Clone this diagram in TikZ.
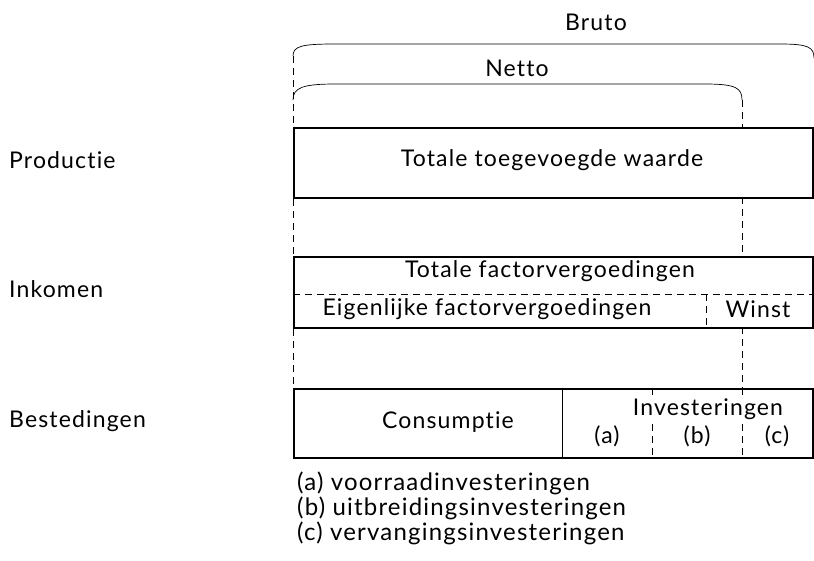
\documentclass[tikz,border=0pt]{standalone}
\usepackage{fontspec}
\setmainfont{Lato}[Ligatures=NoCommon,LetterSpace=5]
\begin{document}
\begin{tikzpicture}[x=1pt,y=-1pt,font=\fontsize{23}{27}\selectfont,
	box/.style={draw,line width=2.2pt,minimum width=519pt,anchor=north west,inner sep=0pt},
	streep/.style={dash pattern=on 7pt off 5pt,line width=0.6pt},
	lijn/.style={line width=0.7pt},
	txt/.style={inner sep=1pt}]
	\useasboundingbox (0,0) rectangle (814,560);
	% de drie blokken
	\node[box,minimum height=70pt] (prod) at (293,127) {};
	\node[box,minimum height=71pt] (ink) at (293,256) {};
	\node[box,minimum height=69pt] (best) at (293,388) {};
	% labels links
	\foreach \naam/\tekst/\y in {lprod/Productie/160,link/Inkomen/289,lbest/Bestedingen/421}
	\node[txt,anchor=west] (\naam) at (8,\y) {\tekst};
	% accolades
	\coordinate (bl) at (293,56); \coordinate (br) at (814,58);
	\coordinate (nl) at (293,100); \coordinate (nr) at (742,100);
	\draw[lijn] (bl) .. controls (293,46) and (302,44) .. (335,44) -- (780,44) .. controls (808,44) and (814,47) .. (br);
	\draw[lijn] (nl) .. controls (293,88) and (302,84) .. (335,84) -- (705,84) .. controls (736,84) and (742,88) .. (nr);
	\node[txt] (bruto) at (596,22) {Bruto};
	\node[txt] (netto) at (517,68) {Netto};
	% stippellijnen tussen de blokken
	\draw[streep] (bl) -- (prod.north west) (prod.south west) -- (ink.north west) (ink.south west) -- (best.north west);
	\coordinate (p1) at (742,127); \coordinate (p2) at (742,197); \coordinate (p3) at (742,256);
	\coordinate (p4) at (742,327); \coordinate (p5) at (742,388); \coordinate (p6) at (742,457);
	\draw[streep] (nr) -- (p1) (p2) -- (p3) (p4) -- (p5) (p5) -- (p6);
	% productie
	\node[txt] (tw) at (552,160) {Totale toegevoegde waarde};
	% inkomen
	\coordinate (kw) at (293,294); \coordinate (ko) at (812,294);
	\draw[streep] (kw) -- (ko);
	\coordinate (wb) at (706,294); \coordinate (wo) at (706,327);
	\draw[streep] (wb) -- (wo);
	\node[txt] (tf) at (550,271) {Totale factorvergoedingen};
	\node[txt] (ef) at (487,309) {Eigenlijke factorvergoedingen};
	\node[txt] (winst) at (758,309) {Winst};
	% bestedingen
	\coordinate (cb) at (562,388); \coordinate (co) at (562,457);
	\draw[lijn] (cb) -- (co);
	\coordinate (ib) at (652,388); \coordinate (io) at (652,457);
	\draw[streep] (ib) -- (io);
	\node[txt] (cons) at (448,422) {Consumptie};
	\node[txt,fill=white,inner sep=0pt] (inv) at (708,409) {Investeringen};
	\foreach \naam/\tekst/\x in {ia/(a)/607,ibb/(b)/697,ic/(c)/777}
	\node[txt,fill=white,inner sep=0pt] (\naam) at (\x,436) {\tekst};
	% legenda
	\foreach \naam/\tekst/\y in {la/{(a) voorraadinvesteringen}/483,lb/{(b) uitbreidingsinvesteringen}/508,lc/{(c) vervangingsinvesteringen}/533}
	\node[txt,anchor=west,font=\fontsize{24}{28}\selectfont] (\naam) at (296,\y) {\tekst};
\end{tikzpicture}
\end{document}
